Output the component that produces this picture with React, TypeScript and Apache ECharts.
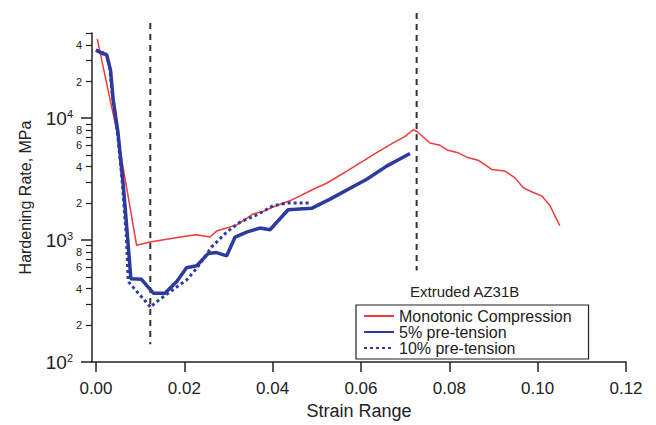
import React, { useEffect, useRef } from "react";
import * as echarts from "echarts";

// ---- data (strain, hardening rate MPa) ----
const monoStrain = [0.0003, 0.0025, 0.0048, 0.0070, 0.0092, 0.0122, 0.0213, 0.0228, 0.0258, 0.0273, 0.0319, 0.0356, 0.0379, 0.0402, 0.0439, 0.0492, 0.0522, 0.0568, 0.0643, 0.0673, 0.0700, 0.0718, 0.0727, 0.0756, 0.0779, 0.0797, 0.0820, 0.0843, 0.0865, 0.0896, 0.0926, 0.0948, 0.0967, 0.0990, 0.1009, 0.1028, 0.1050];
const monoRate = [44600, 18650, 7600, 2620, 906, 966, 1092, 1107, 1059, 1186, 1334, 1638, 1722, 1878, 2101, 2615, 2926, 3681, 5424, 6266, 7086, 8036, 7787, 6266, 5990, 5457, 5198, 4733, 4524, 3802, 3684, 3255, 2698, 2459, 2307, 1915, 1316];

const pre5Strain = [0.0000, 0.00165, 0.0024, 0.0033, 0.0039, 0.0050, 0.0062, 0.0073, 0.0079, 0.0103, 0.0130, 0.0156, 0.0183, 0.0205, 0.0228, 0.0254, 0.0273, 0.0296, 0.0315, 0.0341, 0.0371, 0.0394, 0.0435, 0.0488, 0.0530, 0.0613, 0.0658, 0.0711];
const pre5Rate = [36200, 33700, 33300, 24700, 14100, 7550, 2780, 906, 481, 477, 367, 367, 457, 594, 616, 775, 790, 743, 1059, 1164, 1255, 1215, 1775, 1823, 2168, 3155, 4046, 5128];

const pre10Strain = [0.0000, 0.0016, 0.0026, 0.0031, 0.0036, 0.0048, 0.0059, 0.0069, 0.0073, 0.0124, 0.0133, 0.0168, 0.0205, 0.0228, 0.0262, 0.0296, 0.0326, 0.0364, 0.0401, 0.0432, 0.0487];
const pre10Rate = [36200, 34560, 32060, 26600, 16990, 8040, 3155, 1027, 457, 281, 304, 378, 471, 586, 879, 1164, 1403, 1608, 1914, 2014, 2014];

const seriesNames = ["Monotonic Compression", "5% pre-tension", "10% pre-tension"];

// vertical dashed reference lines: strain, top value, bottom value
const refStrain = [0.0123, 0.0726];
const refTop = [60500, 73000];
const refBottom = [140, 564];

const xTicks = [0, 0.02, 0.04, 0.06, 0.08, 0.1, 0.12];
const yDecades = [100, 1000, 10000];
const yMinorTicks = [200, 300, 400, 500, 600, 700, 800, 900, 2000, 3000, 4000, 5000, 6000, 7000, 8000, 9000, 20000, 30000, 40000, 50000];
const yMinorLabels = [200, 400, 600, 800, 2000, 4000, 6000, 8000, 20000, 40000];

const annotation = "Extruded AZ31B";

const FONT = "'Liberation Sans', Arial, Helvetica, sans-serif";
const RED = "#ef3a3a";
const BLUE = "#2d3a9e";
const TXT = "#222";

const zip = (a: number[], b: number[]) => a.map((v, i) => [v, b[i]]);
const L = (v: number) => Math.log10(v);

export default function App() {
  const ref = useRef<HTMLDivElement>(null);
  useEffect(() => {
    if (!ref.current) return;
    const chart = echarts.init(ref.current, null, { renderer: "svg" });
    const yMax = 50000;
    const option: any = {
      animation: false,
      backgroundColor: "#fff",
      textStyle: { fontFamily: FONT },
      grid: { left: 92, right: 30, top: 33, bottom: 59 },
      xAxis: {
        type: "value",
        min: -0.0009,
        max: 0.12,
        name: "Strain Range",
        nameLocation: "middle",
        nameGap: 40,
        nameTextStyle: { fontSize: 18, color: TXT, fontFamily: FONT },
        axisLine: { lineStyle: { color: "#222", width: 1.5 } },
        axisTick: { customValues: xTicks, length: 10, lineStyle: { color: "#222", width: 1.5 } },
        axisLabel: {
          customValues: xTicks,
          formatter: (v: number) => v.toFixed(2),
          fontSize: 17,
          color: TXT,
          margin: 18,
          fontFamily: FONT,
        },
        splitLine: { show: false },
      },
      yAxis: [
        {
          type: "log",
          position: "left",
          min: 100,
          max: yMax,
          axisLine: { show: false },
          axisTick: { show: false },
          axisLabel: { show: false },
          splitLine: { show: false },
          name: "Hardening Rate, MPa",
          nameLocation: "middle",
          nameGap: 59,
          nameTextStyle: { fontSize: 16, color: TXT, fontFamily: FONT },
        },
        {
          type: "value",
          position: "left",
          offset: 0,
          min: 2,
          max: L(yMax),
          axisLine: { show: true, lineStyle: { color: "#222", width: 1.5 } },
          axisTick: { customValues: yMinorTicks.map(L), length: 6, lineStyle: { color: "#222", width: 1.2 } },
          axisLabel: {
            customValues: yMinorLabels.map(L),
            formatter: (v: number) => String(Math.round(Math.pow(10, v - Math.floor(v + 1e-9)))),
            fontSize: 11,
            color: TXT,
            margin: 10,
            fontFamily: FONT,
          },
          splitLine: { show: false },
        },
        {
          type: "value",
          position: "left",
          offset: 0,
          min: 2,
          max: L(yMax),
          axisLine: { show: false },
          axisTick: { customValues: yDecades.map(L), length: 11, lineStyle: { color: "#222", width: 1.5 } },
          axisLabel: {
            customValues: yDecades.map(L),
            formatter: (v: number) => `{b|10}{s|${Math.round(v)}}`,
            margin: 19,
            color: TXT,
            rich: {
              b: { fontSize: 19, fontFamily: FONT, color: TXT, lineHeight: 20, verticalAlign: "bottom" },
              s: { fontSize: 11, fontFamily: FONT, color: TXT, lineHeight: 20, verticalAlign: "top", padding: [0, 0, 10, 0] },
            },
          },
          splitLine: { show: false },
        },
      ],
      legend: {
        data: seriesNames,
        orient: "vertical",
        left: 356,
        top: 305,
        padding: [3, 17, 3, 7],
        itemGap: 0,
        itemWidth: 30,
        itemHeight: 14,
        itemStyle: { opacity: 0 },
        borderColor: "#222",
        borderWidth: 1.2,
        borderRadius: 0,
        backgroundColor: "#fff",
        textStyle: { fontSize: 16, color: TXT, fontFamily: FONT, lineHeight: 16 },
      },
      graphic: [
        {
          type: "text",
          left: 410,
          top: 284,
          style: { text: annotation, fontSize: 15, fill: TXT, fontFamily: FONT },
        },
      ],
      series: [
        {
          type: "custom",
          name: "ref",
          yAxisIndex: 0,
          clip: false,
          silent: true,
          z: 1,
          encode: { x: 0, y: [1, 2] },
          data: refStrain.map((s, i) => [s, refTop[i], refBottom[i]]),
          renderItem: (params: any, api: any) => {
            const p1 = api.coord([api.value(0), api.value(1)]);
            const p2 = api.coord([api.value(0), api.value(2)]);
            return {
              type: "line",
              shape: { x1: p1[0], y1: p1[1], x2: p2[0], y2: p2[1] },
              style: { stroke: "#333", lineWidth: 2, lineDash: [6, 5] },
            };
          },
        },
        {
          name: seriesNames[0],
          type: "line",
          yAxisIndex: 0,
          data: zip(monoStrain, monoRate),
          symbol: "none",
          color: RED,
          lineStyle: { color: RED, width: 1.5 },
          z: 3,
        },
        {
          name: seriesNames[1],
          type: "line",
          yAxisIndex: 0,
          data: zip(pre5Strain, pre5Rate),
          symbol: "none",
          color: BLUE,
          lineStyle: { color: BLUE, width: 3.5 },
          z: 4,
        },
        {
          name: seriesNames[2],
          type: "line",
          yAxisIndex: 0,
          data: zip(pre10Strain, pre10Rate),
          symbol: "none",
          color: BLUE,
          lineStyle: { color: BLUE, width: 3, type: [3, 3] },
          z: 5,
        },
      ],
    };
    chart.setOption(option);
    return () => chart.dispose();
  }, []);
  return (
    <div
      ref={ref}
      style={{ position: "fixed", left: 0, top: 0, width: 656, height: 425, background: "#fff" }}
    />
  );
}
